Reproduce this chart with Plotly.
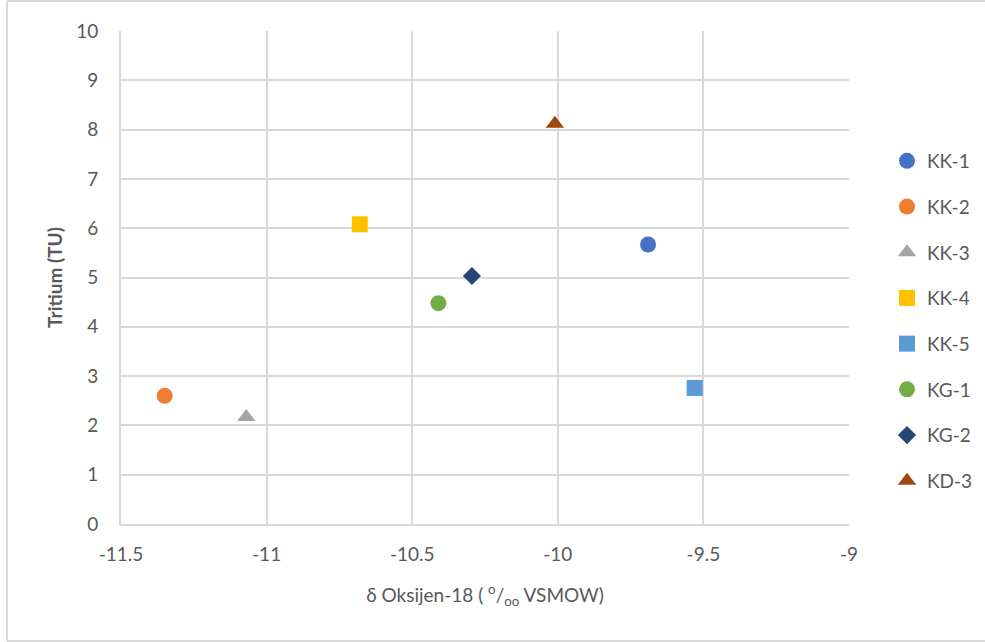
import plotly.graph_objects as go

names = ["KK-1", "KK-2", "KK-3", "KK-4", "KK-5", "KG-1", "KG-2", "KD-3"]
oxygen18 = [-9.69, -11.35, -11.07, -10.68, -9.53, -10.41, -10.295, -10.01]
tritium = [5.67, 2.60, 2.17, 6.08, 2.76, 4.48, 5.03, 8.12]
colors = ["#4472C4", "#ED7D31", "#A5A5A5", "#FFC000", "#5B9BD5", "#70AD47", "#264478", "#9E480E"]
symbols = ["circle", "circle", "triangle-up", "square", "square", "circle", "diamond", "triangle-up"]
sizes = [16, 16, 16, 16, 16, 16, 14, 16]

x_ticks = [-11.5, -11, -10.5, -10, -9.5, -9]
y_ticks = list(range(0, 11))

FONT = "Lato, 'Open Sans', sans-serif"
GRAY = "#595959"
GRID = "#d9d9d9"
FS = 19

fig = go.Figure()
for i, n in enumerate(names):
    fig.add_trace(go.Scatter(
        x=[oxygen18[i]], y=[tritium[i]], mode="markers", name=n,
        legendgroup=n,
        marker=dict(color=colors[i], symbol=symbols[i], size=sizes[i], line=dict(width=0)),
    ))

L, R, T, B = 121, 849, 31, 524
W, H = 985, 642
pw, ph = R - L, B - T

def px(xp):
    return (xp - L) / pw

def py(yp):
    return (B - yp) / ph

fig.update_layout(
    width=W, height=H,
    margin=dict(l=L, r=W - R, t=T, b=H - B, pad=0),
    paper_bgcolor="white", plot_bgcolor="white",
    font=dict(family=FONT, color=GRAY, size=FS),
    showlegend=True,
    legend=dict(
        xref="container", yref="container",
        x=887 / W, y=1 - 142 / H, xanchor="left", yanchor="top",
        font=dict(size=FS, color=GRAY), tracegroupgap=18,
        itemwidth=30, bgcolor="rgba(0,0,0,0)", maxheight=600,
    ),
    xaxis=dict(
        range=[-11.5, -9], tickvals=x_ticks, ticktext=[f"{v:g}" for v in x_ticks],
        showgrid=True, gridcolor=GRID, gridwidth=2, zeroline=False,
        showline=True, linecolor=GRID, linewidth=2, ticks="",
        tickfont=dict(size=FS, color=GRAY), ticklabelstandoff=12,
        title=dict(text="δ Oksijen-18 ( <sup>o</sup>/<sub>oo</sub> VSMOW)", font=dict(size=FS, color=GRAY), standoff=25),
    ),
    yaxis=dict(
        range=[0, 10], tickvals=y_ticks,
        showgrid=True, gridcolor=GRID, gridwidth=2, zeroline=False,
        showline=True, linecolor=GRID, linewidth=2, ticks="",
        tickfont=dict(size=FS, color=GRAY), ticklabelstandoff=17,
        title=dict(text="<b>Tritium (TU)</b>", font=dict(size=FS, color=GRAY), standoff=9),
    ),
    shapes=[
        dict(type="line", xref="paper", yref="paper", x0=px(7), x1=px(7), y0=py(1), y1=py(641),
             line=dict(color=GRID, width=2)),
        dict(type="line", xref="paper", yref="paper", x0=px(7), x1=px(990), y0=py(1), y1=py(1),
             line=dict(color=GRID, width=2)),
        dict(type="line", xref="paper", yref="paper", x0=px(7), x1=px(990), y0=py(641), y1=py(641),
             line=dict(color=GRID, width=2)),
    ],
)

fig.write_html("out.html")
